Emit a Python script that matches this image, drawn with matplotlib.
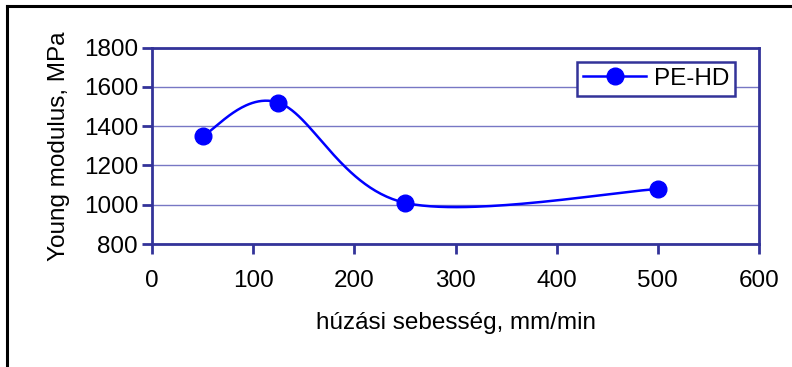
import matplotlib
matplotlib.use("Agg")
import matplotlib.pyplot as plt
import numpy as np
from matplotlib.lines import Line2D

# tensile speed (mm/min) vs Young modulus (MPa)
speed = [50, 125, 250, 500]
modulus = [1350, 1520, 1010, 1080]
series_name = "PE-HD"
x_ticks = [0, 100, 200, 300, 400, 500, 600]
y_ticks = [800, 1000, 1200, 1400, 1600, 1800]

AXIS = "#333399"
GRID = "#7777C4"
LINE = "#0000FF"
FS = 17.5

plt.rcParams["font.family"] = ["Liberation Sans", "DejaVu Sans"]


def excel_smooth(xs, ys, n=60):
    """Catmull-Rom style bezier, like Excel's smoothed line."""
    pts = np.column_stack([xs, ys]).astype(float)
    ext = np.vstack([pts[0], pts, pts[-1]])
    out = []
    t = np.linspace(0, 1, n)[:, None]
    for i in range(1, len(ext) - 2):
        p0, p1, p2, p3 = ext[i - 1], ext[i], ext[i + 1], ext[i + 2]
        c1 = p1 + (p2 - p0) / 6
        c2 = p2 - (p3 - p1) / 6
        seg = ((1 - t) ** 3) * p1 + 3 * ((1 - t) ** 2) * t * c1 + 3 * (1 - t) * t ** 2 * c2 + t ** 3 * p2
        out.append(seg if i == 1 else seg[1:])
    out = np.vstack(out)
    return out[:, 0], out[:, 1]


fig = plt.figure(figsize=(7.92, 3.67), dpi=100)
ax = fig.add_axes([152 / 792, 1 - 244 / 367, 607 / 792, 196.3 / 367])

sx, sy = excel_smooth(speed, modulus)
ax.plot(sx, sy, color=LINE, lw=1.8, zorder=3)
ax.plot(speed, modulus, "o", color=LINE, ms=12, zorder=4)

ax.set_xlim(0, 600)
ax.set_ylim(800, 1800)
ax.set_xticks(x_ticks)
ax.set_yticks(y_ticks)
ax.yaxis.grid(True, color=GRID, lw=1)
ax.set_axisbelow(True)
for s in ax.spines.values():
    s.set_color(AXIS)
    s.set_linewidth(2)
ax.tick_params(direction="out", color=AXIS, width=2, length=7, labelsize=FS,
               labelcolor="black", pad=12)
ax.tick_params(axis="y", pad=3)

ax.set_xlabel("húzási sebesség, mm/min", fontsize=FS, labelpad=14)
ax.set_ylabel("Young modulus, MPa", fontsize=FS, labelpad=10)

handle = Line2D([], [], color=LINE, lw=1.8, marker="o", ms=12)
leg = ax.legend([handle], [series_name], loc="upper right",
                bbox_to_anchor=(735 / 792, 1 - 61.7 / 367), bbox_transform=fig.transFigure,
                fontsize=FS, frameon=True, fancybox=False, framealpha=1,
                edgecolor=AXIS, handlelength=2.6, borderpad=0.25, handletextpad=0.3,
                borderaxespad=0)
leg.get_frame().set_linewidth(1.8)

# outer chart frame (top and left edges visible)
fig.add_artist(Line2D([6.5 / 792, 1], [1 - 5.5 / 367, 1 - 5.5 / 367], color="black", lw=2.2,
                      transform=fig.transFigure))
fig.add_artist(Line2D([7 / 792, 7 / 792], [0, 1 - 5.5 / 367], color="black", lw=2.2,
                      transform=fig.transFigure))

fig.savefig("out.png", dpi=100)
